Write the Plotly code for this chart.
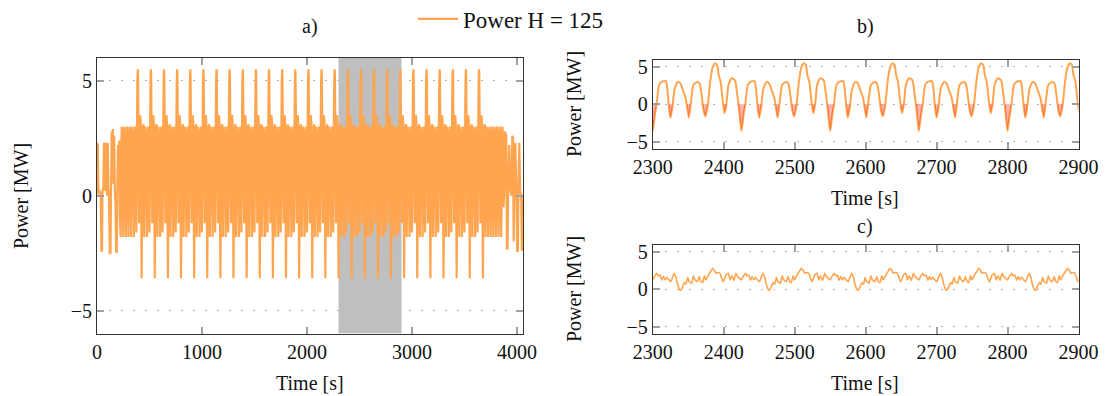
import numpy as np
import plotly.graph_objects as go

# ---------------------------------------------------------------- data
# One 125 s cycle of the power profile (offsets in s from a shallow trough)
CYCLE_PERIOD = 125.0
cycle_offset = [0, 2.6, 6, 10.5, 14, 17.5, 21.5, 26, 29.5, 32.5, 37.5, 41, 44,
                47, 49.5, 52.7, 56, 59.6, 63.3, 66, 68, 70.7, 73.5, 76.2, 78.8,
                81.8, 86.3, 91, 93.6, 96.5, 100, 103, 105.5, 109, 112.5, 118.5,
                120.5, 123]
cycle_power = [-1.8, -0.5, 2.1, 3.0, 2.8, 1.9, 0.8, -1.8, 0.8, 2.6, 3.0, 2.8,
               1.2, -1.0, -1.6, -0.1, 3.0, 5.0, 5.5, 5.2, 3.9, 3.0, 0.6, -1.2,
               -0.1, 2.6, 3.5, 3.2, 1.7, -0.5, -3.6, -1.5, 0.0, 2.6, 3.0, 3.1,
               2.1, -0.5]

# Regular 25 s oscillation without the large excursions
PLAIN_PERIOD = 25.0
plain_offset = [0, 2.6, 6, 10.5, 14, 18, 21.5]
plain_power = [-1.8, -0.5, 2.1, 3.0, 2.8, 1.2, -0.5]

# Start-up and shut-down transients
startup_t = [0, 1, 8, 12, 18, 26, 36, 42, 48, 52, 60, 66, 72, 76, 84, 90, 96,
             102, 108, 114, 122, 128, 134, 140, 146, 152, 158, 164, 170, 176,
             182, 188, 194, 200, 206, 212, 218]
startup_p = [0.0, 2.3, 2.2, 0.5, 0.1, 0.2, 0.0, -2.4, -2.4, 0.3, 0.2, 2.3, 2.2,
             0.2, 2.3, 0.3, 0.0, 2.3, 0.4, 0.0, -2.5, -2.5, 0.4, 2.8, 0.6, 2.9,
             0.5, 2.6, 0.3, -0.4, -2.4, -2.5, 0.4, 2.2, 0.4, 2.4, -1.0]
shutdown_t = [3881, 3886, 3892, 3898, 3904, 3910, 3916, 3926, 3936, 3946, 3956,
              3962, 3968, 3974, 3984, 3994, 4002, 4008, 4014, 4022, 4030, 4040,
              4046, 4052, 4056]
shutdown_p = [0.4, 2.8, 0.4, 2.7, -2.3, -2.3, 0.3, 2.2, 0.3, 0.0, 2.6, 2.5,
              -2.0, 0.4, 2.3, 0.3, -2.45, -2.4, 0.4, 2.3, 0.2, 0.0, -2.4, -2.3,
              0.0]

plain_before = (225, 325)
cycles_span = (325, 3700)
plain_after = (3700, 3875)

# Smoothed power of the second configuration, one 125 s cycle from t = 2300 s
smooth_offset = [0, 1.9, 5.6, 8, 10.3, 12.7, 15, 17.4, 19.7, 22, 25.4, 28.2,
                 30.5, 32.9, 34.7, 37.6, 39.4, 42.3, 44.6, 47, 49.3, 51.6, 55,
                 57.3, 59.6, 63, 65.7, 68, 70.4, 72.8, 75, 78.4, 81.7, 84.5,
                 87.3, 89.2, 91.5, 94.8, 97.2, 99.5, 103.3, 106.6, 108.9,
                 111.3, 114.6, 117.4, 119.7, 122]
smooth_power = [1.26, 1.6, 2.15, 1.8, 1.9, 1.2, 1.7, 1.26, 1.6, 1.35, 1.0, 1.7,
                2.15, 1.6, 0.8, 0.0, -0.15, 0.35, 0.9, 0.67, 1.6, 1.0, 0.8,
                1.8, 1.26, 1.0, 1.7, 1.0, 0.9, 1.8, 1.26, 1.9, 2.4, 2.8, 2.5,
                2.15, 2.25, 2.15, 1.5, 1.0, 1.9, 2.15, 1.26, 1.8, 1.2, 2.15,
                1.7, 1.5]
smooth_origin = 2300

zoom_window = (2300, 2900)
x_ticks_full = [0, 1000, 2000, 3000, 4000]
x_ticks_zoom = [2300, 2400, 2500, 2600, 2700, 2800, 2900]
y_ticks = [-5, 0, 5]
y_ticktext = ["\u22125", "0", "5"]


def repeat_cycle(offsets, values, start, stop, period):
    ts, ps = [], []
    s = start
    while s < stop - 1e-9:
        for o, v in zip(offsets, values):
            if s + o < stop:
                ts.append(s + o)
                ps.append(v)
        s += period
    return ts, ps


# assemble the full power trace
segments = [
    (startup_t, startup_p),
    repeat_cycle(plain_offset, plain_power, *plain_before, PLAIN_PERIOD),
    repeat_cycle(cycle_offset, cycle_power, *cycles_span, CYCLE_PERIOD),
    repeat_cycle(plain_offset, plain_power, *plain_after, PLAIN_PERIOD),
    (shutdown_t, shutdown_p),
]
t_all = np.concatenate([np.asarray(s[0], float) for s in segments])
p_all = np.concatenate([np.asarray(s[1], float) for s in segments])

# window shown in b)
sel = (t_all >= zoom_window[0] - 10) & (t_all <= zoom_window[1] + 10)
t_b, p_b = t_all[sel], p_all[sel]

# negative part of b) as a closed area, split exactly at zero crossings
neg_t, neg_p = [], []
for i in range(len(t_b)):
    if i > 0 and (p_b[i - 1] < 0) != (p_b[i] < 0):
        t0 = t_b[i - 1] + (t_b[i] - t_b[i - 1]) * (0 - p_b[i - 1]) / (p_b[i] - p_b[i - 1])
        neg_t.append(t0)
        neg_p.append(0.0)
    neg_t.append(t_b[i])
    neg_p.append(min(p_b[i], 0.0))

# smoothed series for c)
t_c, p_c = repeat_cycle(smooth_offset, smooth_power, smooth_origin - CYCLE_PERIOD,
                        zoom_window[1] + CYCLE_PERIOD, CYCLE_PERIOD)

# ---------------------------------------------------------------- figure
W, H = 1106, 396
ORANGE = "#ffa54f"
FONT = "Liberation Serif"
TXT = "#111111"


def px(x):
    return x / W


def py(y):
    return 1 - y / H


fig = go.Figure()
fig.add_trace(go.Scatter(x=t_all, y=p_all, mode="lines", name="Power H = 125",
                         line=dict(color=ORANGE, width=2.2, simplify=False),
                         xaxis="x", yaxis="y", showlegend=True))
fig.add_trace(go.Scatter(x=t_b, y=p_b, mode="lines",
                         line=dict(color=ORANGE, width=2, shape="spline", smoothing=0.6),
                         xaxis="x2", yaxis="y2", showlegend=False))
fig.add_trace(go.Scatter(x=neg_t, y=neg_p, mode="lines", fill="tozeroy",
                         fillcolor="rgba(255,0,0,0.3)", line=dict(width=0),
                         xaxis="x2", yaxis="y2", showlegend=False))
fig.add_trace(go.Scatter(x=t_c, y=p_c, mode="lines",
                         line=dict(color=ORANGE, width=1.6, shape="spline", smoothing=0.4),
                         xaxis="x3", yaxis="y3", showlegend=False))

# highlighted window in a)
fig.add_shape(type="rect", xref="x", yref="y", x0=zoom_window[0], x1=zoom_window[1],
              y0=-6, y1=6, fillcolor="#bfbfbf", line=dict(width=0), layer="below")

axis_common = dict(showline=True, linecolor="#333333", linewidth=1, mirror="ticks",
                   ticks="inside", ticklen=7, tickwidth=1.5, tickcolor="#a0a0a0",
                   tickfont=dict(family=FONT, size=20, color=TXT), zeroline=False,
                   automargin=False)
xgrid = dict(showgrid=False)
ygrid = dict(showgrid=True, gridcolor="#b5b5b5", gridwidth=1, griddash="2px,10px",
             tickvals=y_ticks, ticktext=y_ticktext, range=[-6, 6])

dom_a_x = [px(97), px(523)]
dom_a_y = [py(333.5), py(57.7)]
dom_bc_x = [px(652.7), px(1078.5)]
dom_b_y = [py(149), py(59.5)]
dom_c_y = [py(334), py(244.5)]

fig.update_layout(
    template="none",
    width=W, height=H, margin=dict(l=0, r=0, t=0, b=0, autoexpand=False),
    paper_bgcolor="white", plot_bgcolor="white",
    font=dict(family=FONT, size=20, color=TXT),
    xaxis=dict(domain=dom_a_x, range=[0, 4057], tickvals=x_ticks_full,
               anchor="y", **axis_common, **xgrid),
    yaxis=dict(domain=dom_a_y, anchor="x", **axis_common, **ygrid),
    xaxis2=dict(domain=dom_bc_x, range=list(zoom_window), tickvals=x_ticks_zoom,
                anchor="y2", **axis_common, **xgrid),
    yaxis2=dict(domain=dom_b_y, anchor="x2", **axis_common, **ygrid),
    xaxis3=dict(domain=dom_bc_x, range=list(zoom_window), tickvals=x_ticks_zoom,
                anchor="y3", **axis_common, **xgrid),
    yaxis3=dict(domain=dom_c_y, anchor="x3", **axis_common, **ygrid),
    legend=dict(x=px(413), y=py(19), xanchor="left", yanchor="middle",
                orientation="h", bgcolor="rgba(0,0,0,0)", itemwidth=40,
                font=dict(family=FONT, size=23, color=TXT)),
)

labels = [
    ("a)", 310, 27, 0), ("b)", 865, 27, 0), ("c)", 865, 226, 0),
    ("Time [s]", 310, 383, 0), ("Time [s]", 865, 198, 0), ("Time [s]", 865, 383, 0),
    ("Power [MW]", 21, 196, -90), ("Power [MW]", 574, 104, -90),
    ("Power [MW]", 574, 289, -90),
]
for text, x, y, ang in labels:
    fig.add_annotation(text=text, x=px(x), y=py(y), xref="paper", yref="paper",
                       xanchor="center", yanchor="middle", showarrow=False,
                       textangle=ang, font=dict(family=FONT, size=20, color=TXT))

fig.write_html("out.html")
